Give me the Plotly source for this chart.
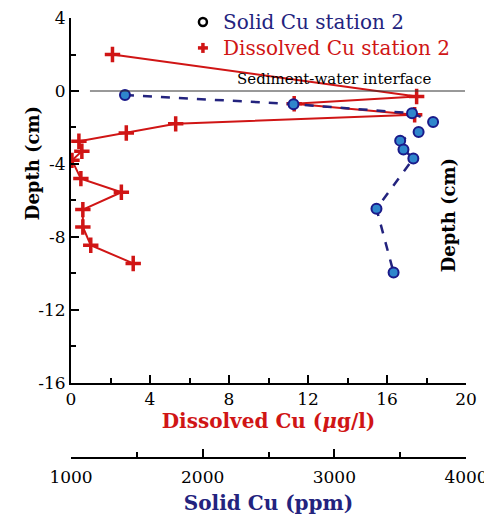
import plotly.graph_objects as go

# Dissolved Cu (ug/l) vs depth (cm)
dis_cu = [2.1, 17.5, 11.3, 17.4, 5.3, 2.8, 0.4, 0.55, 0.05, 0.5, 2.55, 0.6, 0.6, 1.0, 3.15]
dis_depth = [2.0, -0.3, -0.7, -1.3, -1.8, -2.3, -2.75, -3.3, -3.8, -4.8, -5.55, -6.5, -7.45, -8.45, -9.45]

# Solid Cu (ppm) vs depth (cm)
sol_cu = [1410, 2690, 3590, 3750, 3640, 3500, 3525, 3600, 3320, 3450]
sol_depth = [-0.22, -0.72, -1.22, -1.7, -2.25, -2.72, -3.2, -3.7, -6.45, -9.95]

legend_labels = ["Solid Cu station 2", "Dissolved Cu station 2"]

RED = "#d01515"
NAVY = "#23237e"
FONT = "DejaVu Serif"

fig = go.Figure()

fig.add_trace(go.Scatter(
    x=sol_cu, y=sol_depth, xaxis="x2", yaxis="y", mode="lines+markers",
    line=dict(color=NAVY, width=2.5, dash="dash"),
    marker=dict(symbol="circle", size=10, color="#2f86cc", line=dict(color="#1a1a8a", width=2)),
    showlegend=False))

fig.add_trace(go.Scatter(
    x=dis_cu, y=dis_depth, xaxis="x", yaxis="y", mode="lines+markers",
    line=dict(color=RED, width=2),
    marker=dict(symbol="cross-thin-open", size=11, color=RED, line=dict(color=RED, width=3.5)),
    showlegend=False))

# legend (drawn manually)
LX = 0.334  # paper x of legend symbols
ROW1, ROW2 = 0.991, 0.932
fig.add_shape(type="circle", xref="paper", yref="paper", xsizemode="pixel", ysizemode="pixel",
              xanchor=LX, yanchor=ROW1, x0=-4, x1=4, y0=-4, y1=4,
              line=dict(color="black", width=2.5))
fig.add_shape(type="line", xref="paper", yref="paper", xsizemode="pixel", ysizemode="pixel",
              xanchor=LX, yanchor=ROW2, x0=-5, x1=5, y0=0, y1=0, line=dict(color=RED, width=3.5))
fig.add_shape(type="line", xref="paper", yref="paper", xsizemode="pixel", ysizemode="pixel",
              xanchor=LX, yanchor=ROW2, x0=0, x1=0, y0=-5, y1=5, line=dict(color=RED, width=3.5))
fig.add_annotation(x=0.38, y=ROW1, xref="paper", yref="paper", xanchor="left", yanchor="middle",
                   text=legend_labels[0], showarrow=False, font=dict(family=FONT, size=20, color=NAVY))
fig.add_annotation(x=0.38, y=ROW2, xref="paper", yref="paper", xanchor="left", yanchor="middle",
                   text=legend_labels[1], showarrow=False, font=dict(family=FONT, size=20, color=RED))

fig.add_shape(type="line", xref="x", yref="y", x0=0.96, x1=19.95, y0=0, y1=0,
              line=dict(color="#333333", width=1))

fig.add_annotation(x=13.3, y=0.68, xref="x", yref="y", text="Sediment-water interface",
                   showarrow=False, font=dict(family=FONT, size=15, color="black"))
fig.add_annotation(x=19.1, y=-6.8, xref="x", yref="y", text="<b>Depth (cm)</b>", textangle=-90,
                   showarrow=False, font=dict(family=FONT, size=18, color="black"))
fig.add_annotation(x=-0.13, y=-3.95, xref="paper", yref="y", text="<b>Depth (cm)</b>", textangle=-90,
                   showarrow=False, font=dict(family=FONT, size=18, color="black"))

axis_common = dict(showline=True, linecolor="black", linewidth=2, ticks="inside",
                   tickcolor="black", tickwidth=1.5, ticklen=8, showgrid=False, zeroline=False,
                   automargin=False, ticklabeloverflow="allow",
                   tickfont=dict(family=FONT, size=17, color="black"))

fig.update_layout(
    width=484, height=510,
    margin=dict(l=63, r=26, t=10, b=60, autoexpand=False),
    plot_bgcolor="white", paper_bgcolor="white",
    font=dict(family=FONT),
    showlegend=False,
    xaxis=dict(range=[0, 20], tickvals=[0, 4, 8, 12, 16, 20], anchor="y",
               minor=dict(ticks="inside", tickvals=[2, 6, 10, 14, 18], ticklen=5, tickcolor="black", tickwidth=1.5),
               title=dict(text="<b>Dissolved Cu (</b><b><i>μ</i></b><b>g/l)</b>", standoff=3,
                          font=dict(family=FONT, size=20, color=RED)),
               **axis_common),
    xaxis2=dict(range=[1000, 4000], tickvals=[1000, 2000, 3000, 4000], anchor="free", position=0,
                overlaying="x", side="bottom", ticklabelstandoff=4,
                minor=dict(ticks="inside", tickvals=[1500, 2500, 3500], ticklen=5, tickcolor="black", tickwidth=1.5),
                title=dict(text="<b>Solid Cu (ppm)</b>", standoff=9,
                           font=dict(family=FONT, size=20, color=NAVY)),
                **axis_common),
    yaxis=dict(range=[-16, 4], tickvals=[4, 0, -4, -8, -12, -16], ticktext=["4", "0", "-4", "-8", "-12", "-16"],
               domain=[0.1705, 1],
               minor=dict(ticks="inside", tickvals=[2, -2, -6, -10, -14], ticklen=5, tickcolor="black", tickwidth=1.5),
               **axis_common),
)

fig.write_html("out.html")
